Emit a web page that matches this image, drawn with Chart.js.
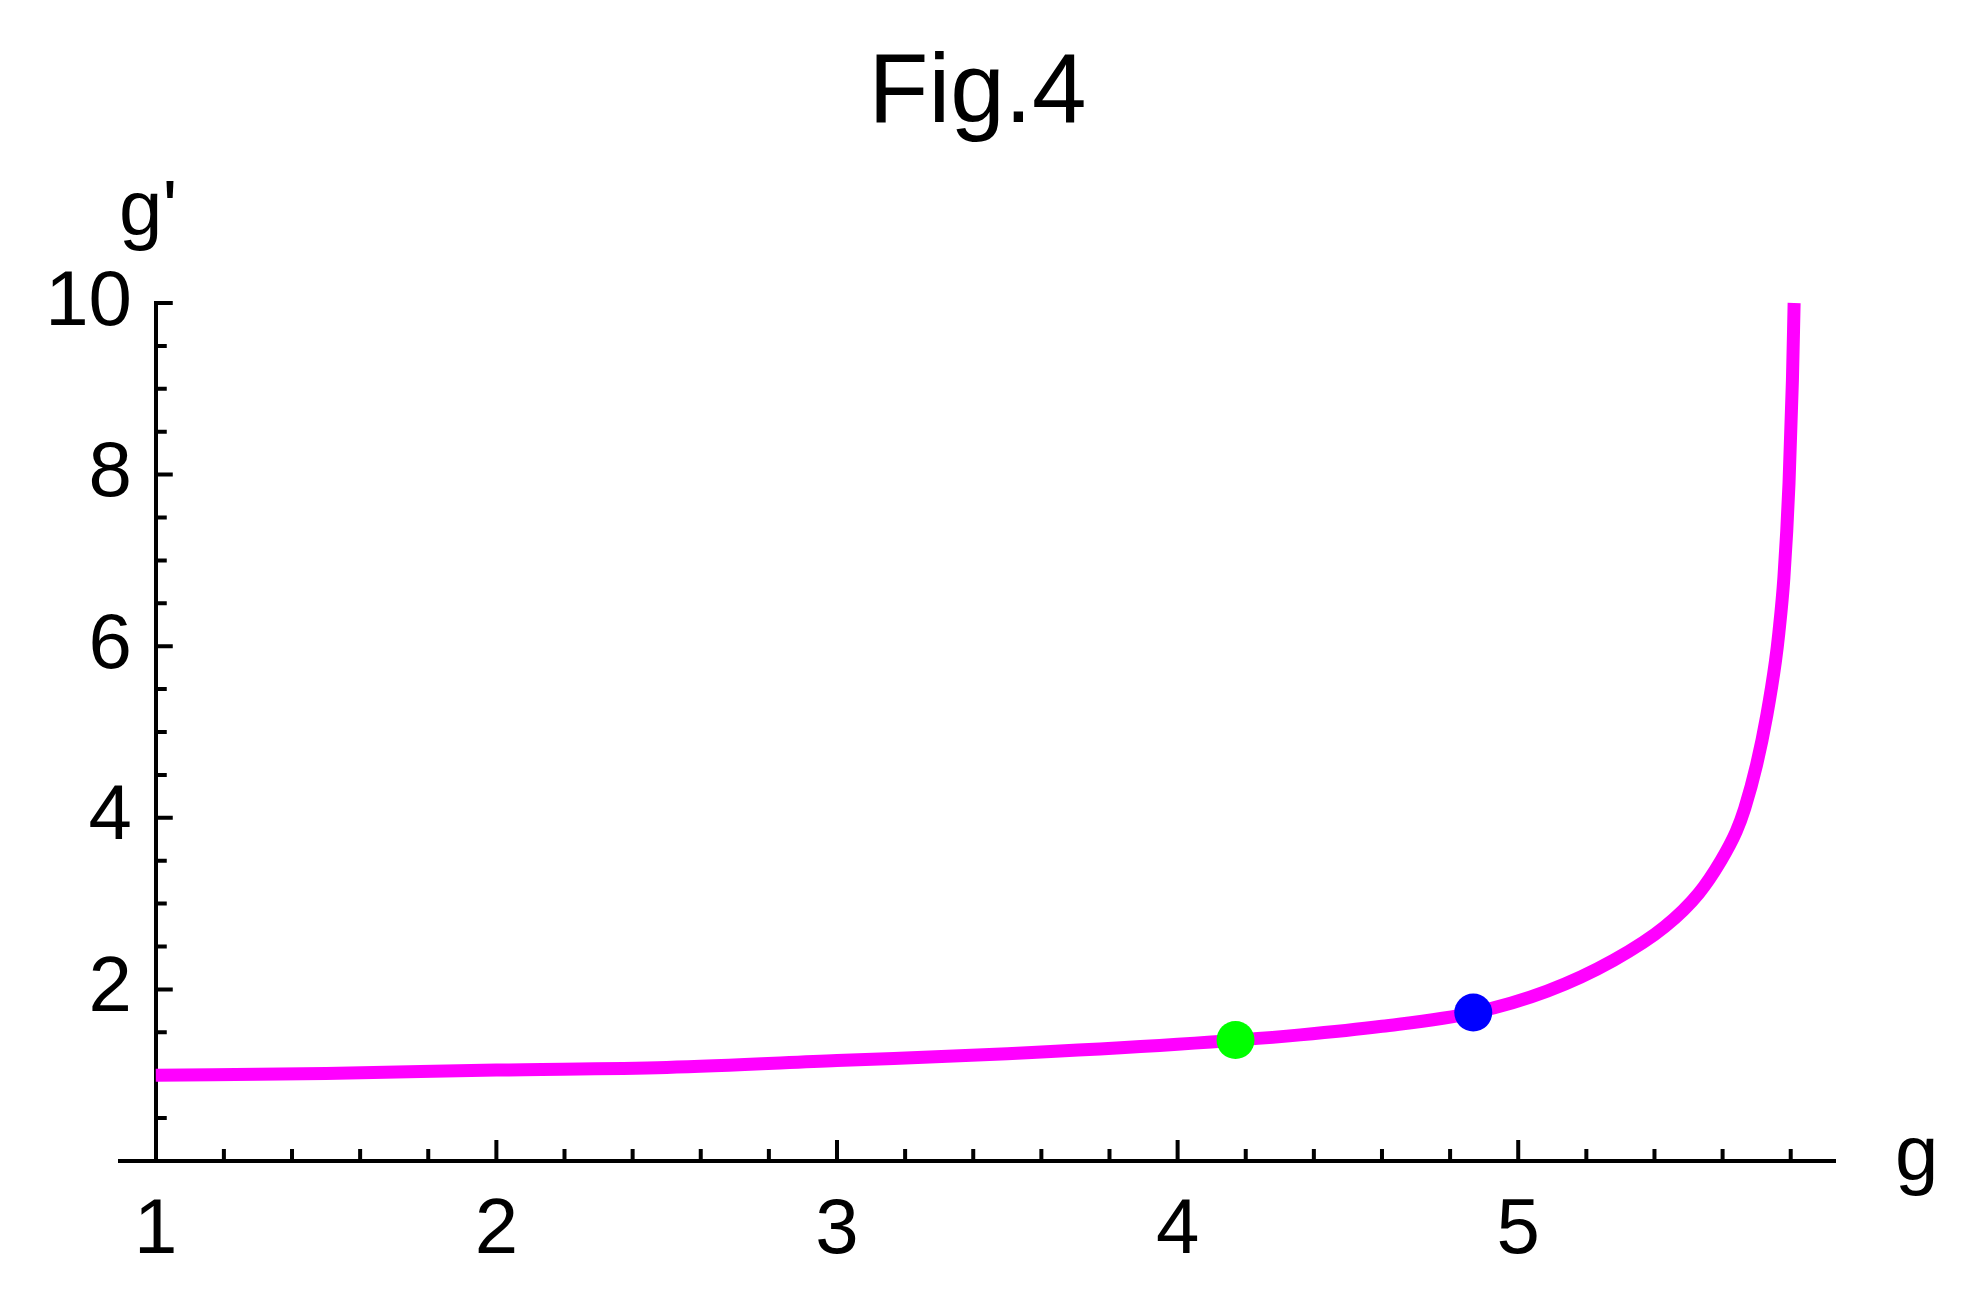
<!DOCTYPE html>
<html>
<head>
<meta charset="utf-8">
<title>Fig.4</title>
<script src="https://cdn.jsdelivr.net/npm/chart.js@4.4.1/dist/chart.umd.min.js"></script>
<style>
  html, body { margin: 0; padding: 0; background: #fff; }
  #wrap { width: 1968px; height: 1306px; }
</style>
</head>
<body>
<div id="wrap"><canvas id="fig4" width="1968" height="1306"></canvas></div>
<script>
"use strict";

// curve
var gValues      = [1.0, 1.5, 2.0, 2.5, 3.0, 3.5, 4.0, 4.36, 4.6, 4.87, 5.085, 5.28, 5.43, 5.53, 5.595, 5.64, 5.665, 5.70, 5.73, 5.755, 5.765, 5.78, 5.795, 5.805, 5.81];
var gPrimeValues = [1.00, 1.02, 1.06, 1.09, 1.17, 1.25, 1.36, 1.47, 1.57, 1.73, 1.98, 2.34, 2.73, 3.12, 3.50, 3.84, 4.11, 4.62, 5.20, 5.82, 6.15, 6.80, 7.90, 9.10, 10.0];

// the two marked points
var greenPoint = [4.17, 1.41];
var bluePoint  = [4.868, 1.73];

var xTickLabels = ["1", "2", "3", "4", "5"];
var yTickLabels = ["2", "4", "6", "8", "10"];

var FONT = "'Liberation Sans', Arial, sans-serif";

var curve = gValues.map(function (g, i) { return {x: g, y: gPrimeValues[i]}; });

var isMajor = function (v, step) {
    return Math.abs(v / step - Math.round(v / step)) < 1e-6;
};

// Mathematica style ticks pointing into the plot
var inwardTicks = {
    id: 'inwardTicks',
    beforeDatasetsDraw: function (chart) {
        var ctx = chart.ctx;
        var xs = chart.scales.x, ys = chart.scales.y;
        var y0 = ys.getPixelForValue(0);
        var x0 = xs.getPixelForValue(1);
        ctx.save();
        ctx.strokeStyle = '#000';
        ctx.lineWidth = 4;
        ctx.beginPath();
        xs.ticks.forEach(function (t) {
            if (t.value < 1.1) { return; }
            var px = xs.getPixelForValue(t.value);
            var len = isMajor(t.value, 1) ? 21 : 12;
            ctx.moveTo(px, y0);
            ctx.lineTo(px, y0 - len);
        });
        ys.ticks.forEach(function (t) {
            if (t.value === 0) { return; }
            var py = ys.getPixelForValue(t.value);
            var len = isMajor(t.value, 2) ? 17 : 11;
            ctx.moveTo(x0, py);
            ctx.lineTo(x0 + len, py);
        });
        ctx.stroke();
        ctx.restore();
    },
    afterDraw: function (chart) {
        var ctx = chart.ctx;
        ctx.save();
        ctx.fillStyle = '#000';
        ctx.font = '78px ' + FONT;
        ctx.textAlign = 'left';
        ctx.textBaseline = 'alphabetic';
        ctx.fillText("g'", 119, 235);
        ctx.fillText("g", 1895, 1180);
        ctx.restore();
    }
};

new Chart(document.getElementById('fig4').getContext('2d'), {
    type: 'line',
    data: {
        datasets: [{
            label: "g'",
            data: curve,
            borderColor: '#ff00ff',
            borderWidth: 13,
            pointRadius: 0,
            cubicInterpolationMode: 'monotone',
            borderCapStyle: 'butt',
            fill: false,
            clip: false,
            order: 2
        }, {
            type: 'scatter',
            label: 'green',
            data: [{x: greenPoint[0], y: greenPoint[1]}],
            pointRadius: 19,
            pointBackgroundColor: '#00ff00',
            pointBorderWidth: 0,
            order: 1
        }, {
            type: 'scatter',
            label: 'blue',
            data: [{x: bluePoint[0], y: bluePoint[1]}],
            pointRadius: 19,
            pointBackgroundColor: '#0000ff',
            pointBorderWidth: 0,
            order: 1
        }]
    },
    options: {
        responsive: false,
        animation: false,
        devicePixelRatio: 1,
        layout: {padding: {left: 120, right: 133, top: 0, bottom: 0}},
        plugins: {
            legend: {display: false},
            tooltip: {enabled: false},
            title: {
                display: true,
                fullSize: false,
                text: 'Fig.4',
                color: '#000',
                font: {family: FONT, size: 98, weight: 'normal', lineHeight: 1},
                padding: {top: 46, bottom: 159}
            }
        },
        scales: {
            x: {
                type: 'linear',
                position: 'bottom',
                min: 0.895,
                max: 5.93,
                afterFit: function (scale) { scale.height = 145; },
                border: {display: true, color: '#000', width: 4},
                grid: {drawOnChartArea: false, drawTicks: false},
                ticks: {
                    stepSize: 0.2,
                    includeBounds: false,
                    autoSkip: false,
                    maxRotation: 0,
                    padding: 24,
                    color: '#000',
                    font: {family: FONT, size: 78},
                    callback: function (v) {
                        return isMajor(v, 1) ? xTickLabels[Math.round(v) - 1] : '';
                    }
                }
            },
            // the drawn axis line, crossing at g = 1
            y: {
                type: 'linear',
                position: {x: 1},
                min: 0,
                max: 10,
                border: {display: true, color: '#000', width: 4},
                grid: {drawOnChartArea: false, drawTicks: false},
                ticks: {stepSize: 0.5, autoSkip: false, display: false}
            },
            // carries only the tick numbers, set a little left of the axis line
            yLabels: {
                type: 'linear',
                position: {x: 0.93},
                min: 0,
                max: 10,
                border: {display: false},
                grid: {display: false, drawTicks: false},
                ticks: {
                    stepSize: 2,
                    autoSkip: false,
                    color: '#000',
                    font: {family: FONT, size: 78},
                    callback: function (v) {
                        return v > 0 ? yTickLabels[Math.round(v / 2) - 1] : '';
                    }
                }
            }
        }
    },
    plugins: [inwardTicks]
});
</script>
</body>
</html>
